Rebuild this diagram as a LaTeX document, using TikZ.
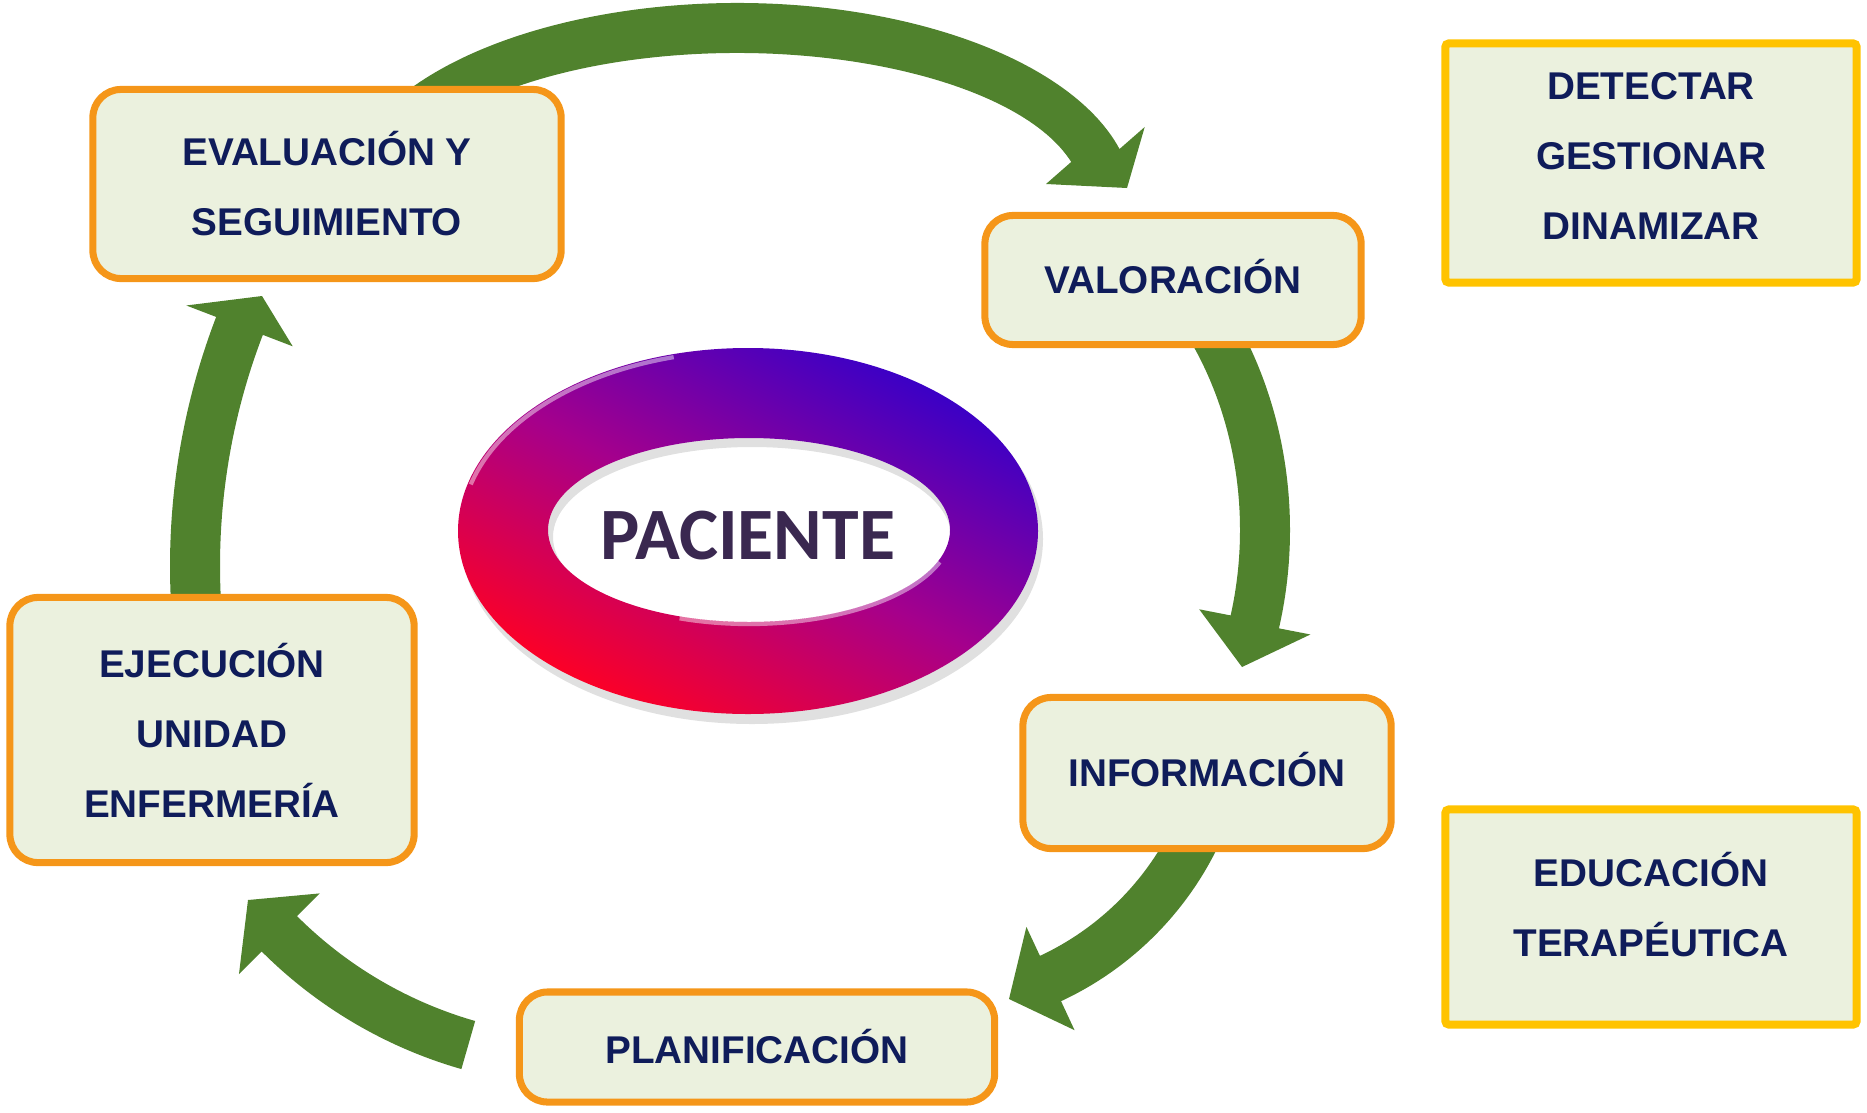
\documentclass[tikz,border=0pt]{standalone}
\usepackage{fontspec}
\setmainfont{Liberation Sans}
\newfontfamily\ringfont{Carlito}
\usetikzlibrary{calc}

\definecolor{boxfill}{RGB}{235,241,222}
\definecolor{boxorange}{RGB}{245,150,25}
\definecolor{boxyellow}{RGB}{255,195,0}
\definecolor{textnavy}{RGB}{15,28,90}
\definecolor{arrowgreen}{RGB}{80,130,45}
\definecolor{ringred}{RGB}{255,0,35}
\definecolor{ringmid}{RGB}{165,0,140}
\definecolor{ringblue}{RGB}{55,0,200}
\definecolor{ringtext}{RGB}{58,40,80}

\tikzset{
  stage/.style={draw=boxorange, line width=2pt, fill=boxfill, rounded corners=8pt,
    align=center, text=textnavy, font=\bfseries\fontsize{11}{19.9}\selectfont},
  aim/.style={draw=boxyellow, line width=2.3pt, fill=boxfill, rounded corners=1pt,
    align=center, text=textnavy, font=\bfseries\fontsize{11}{19.9}\selectfont},
  bigarrow/.style={fill=arrowgreen},
}

% curved block arrow: cx, cy, x radius, y radius, start, end, tip
\newcommand{\cyclearrow}[7]{%
  \pgfmathsetmacro\arrnx{#4*cos(#6)/100}
  \pgfmathsetmacro\arrny{#3*sin(#6)/100}
  \pgfmathsetmacro\arrnl{veclen(\arrnx,\arrny)}
  \pgfmathsetmacro\arrnx{\arrnx/\arrnl}
  \pgfmathsetmacro\arrny{\arrny/\arrnl}
  \fill[bigarrow]
    ({#1+(#3+25)*cos(#5)},{#2+(#4+25)*sin(#5)})
      arc[start angle=#5, end angle=#6, x radius=#3+25, y radius=#4+25]
    -- ({#1+#3*cos(#6)+57*\arrnx},{#2+#4*sin(#6)+57*\arrny})
    -- #7
    -- ({#1+#3*cos(#6)-57*\arrnx},{#2+#4*sin(#6)-57*\arrny})
    -- ({#1+(#3-25)*cos(#6)},{#2+(#4-25)*sin(#6)})
      arc[start angle=#6, end angle=#5, x radius=#3-25, y radius=#4-25]
    -- cycle;}

\begin{document}
\begin{tikzpicture}[x=0.01cm, y=-0.01cm]
    \useasboundingbox (0,0) rectangle (1867,1112);

    % Draw arrow tips
    \coordinate (tipA) at (1127,188);
    \coordinate (tipB) at (1242,667);
    \coordinate (tipC) at (1009,999);
    \coordinate (tipD) at (248,900);
    \coordinate (tipE) at (262,296);

    % Draw arrows
    \cyclearrow{737}{200}{371}{172}{210}{345}{(tipA)}
    \cyclearrow{965}{530}{300}{355}{-38}{15}{(tipB)}
    \cyclearrow{922}{703}{304}{304}{25}{65}{(tipC)}
    \cyclearrow{589}{624}{438}{438}{106}{135}{(tipD)}
    \cyclearrow{865}{566}{670}{670}{175}{201}{(tipE)}

    % Draw ring
    \fill[black, opacity=0.12, even odd rule] (752,539) ellipse[x radius=291, y radius=185]
        (752,537) ellipse[x radius=199, y radius=90];
    \shade[even odd rule, top color=ringblue, bottom color=ringred, middle color=ringmid,
        shading angle=-28] (748,531) ellipse[x radius=290, y radius=183]
        (749,530) ellipse[x radius=201, y radius=92];
    \draw[white, opacity=0.45, line width=1.2pt] (748,531) ++(195:287 and 180)
        arc[start angle=195, end angle=255, x radius=287, y radius=180];
    \draw[white, opacity=0.45, line width=1.2pt] (749,530) ++(20:203 and 94)
        arc[start angle=20, end angle=110, x radius=203, y radius=94];
    \node[font=\ringfont\bfseries\fontsize{21}{21}\selectfont, text=ringtext] (patient) at (748,536) {PACIENTE};

    % Draw stages
    \node[stage, minimum width=4.68cm, minimum height=1.89cm] (evaluation) at (327,184) {EVALUACIÓN Y\\SEGUIMIENTO};
    \node[stage, minimum width=3.76cm, minimum height=1.29cm, text depth=2pt] (assessment) at (1173,280) {VALORACIÓN};
    \node[stage, minimum width=3.68cm, minimum height=1.51cm, text depth=2pt] (information) at (1207,773) {INFORMACIÓN};
    \node[stage, minimum width=4.75cm, minimum height=1.10cm] (planning) at (757,1047) {PLANIFICACIÓN};
    \node[stage, minimum width=4.04cm, minimum height=2.65cm] (execution) at (212,730) {EJECUCIÓN\\UNIDAD\\ENFERMERÍA};

    % Draw aims
    \node[aim, minimum width=4.11cm, minimum height=2.39cm, text depth=4pt] (manage) at (1651,163) {DETECTAR\\GESTIONAR\\DINAMIZAR};
    \node[aim, minimum width=4.11cm, minimum height=2.15cm, text depth=7pt] (education) at (1651,917) {EDUCACIÓN\\TERAPÉUTICA};
\end{tikzpicture}
\end{document}
